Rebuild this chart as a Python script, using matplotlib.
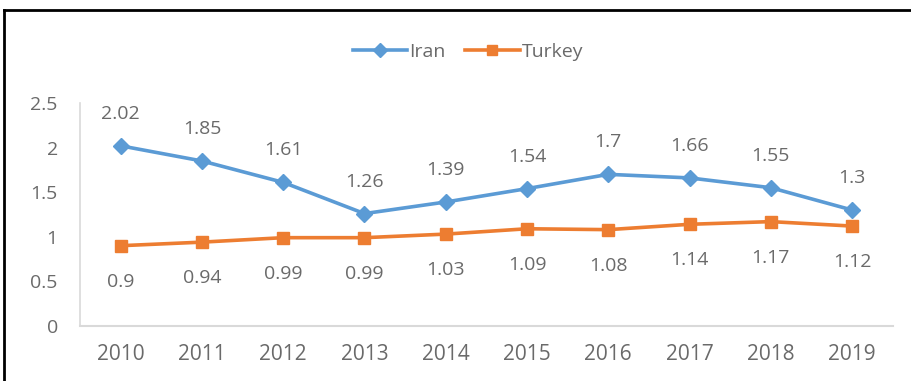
import numpy as np
import matplotlib.pyplot as plt
from matplotlib.lines import Line2D

# datos de la grafica
years = ['2010', '2011', '2012', '2013', '2014', '2015', '2016', '2017', '2018', '2019']
iran = [2.02, 1.85, 1.61, 1.26, 1.39, 1.54, 1.7, 1.66, 1.55, 1.3]
turkey = [0.9, 0.94, 0.99, 0.99, 1.03, 1.09, 1.08, 1.14, 1.17, 1.12]

gris = '#6a6a6a'
plt.rcParams['font.family'] = ['Open Sans', 'DejaVu Sans']

fig = plt.figure(figsize=(9.11, 3.81), dpi=100)
ax = fig.add_axes([0.0878, 0.1444, 0.8922, 0.5853])

x = np.arange(len(years))
ax.plot(x, iran, color='#5B9BD5', lw=2.6, marker='D', ms=8, label='Iran')
ax.plot(x, turkey, color='#ED7D31', lw=2.6, marker='s', ms=9, label='Turkey')

# etiquetas de valores
for i in range(len(years)):
    ax.annotate(f'{iran[i]:g}', (x[i], iran[i]), xytext=(0, 23), textcoords='offset points',
                ha='center', va='center', fontsize=14, color=gris)
    ax.annotate(f'{turkey[i]:g}', (x[i], turkey[i]), xytext=(0, -26), textcoords='offset points',
                ha='center', va='center', fontsize=14, color=gris)

ax.set_xlim(-0.5, 9.5)
ax.set_ylim(0, 2.5)
ax.set_yticks([0, 0.5, 1, 1.5, 2, 2.5])
ax.set_yticklabels(['0', '0.5', '1', '1.5', '2', '2.5'])
ax.set_xticks(x)
ax.set_xticklabels(years)
ax.tick_params(axis='both', length=0, labelsize=14, labelcolor=gris)
ax.tick_params(axis='x', labelsize=15, pad=13)
ax.tick_params(axis='y', pad=16)
for s in ['top', 'right']:
    ax.spines[s].set_visible(False)
ax.spines['left'].set_color('#d9d9d9')
ax.spines['bottom'].set_color('#d9d9d9')
ax.spines['left'].set_linewidth(1.2)
ax.spines['bottom'].set_linewidth(1.5)

fig.legend(loc='center', bbox_to_anchor=(468 / 911, 1 - 52 / 381), ncol=2, frameon=False,
           fontsize=14, labelcolor=gris, handlelength=2.8, handletextpad=0.1, columnspacing=1.0,
           markerscale=0.85)

# marco
fig.add_artist(Line2D([4 / 911, 4 / 911], [0, 1 - 10 / 381], color='black', lw=2, transform=fig.transFigure))
fig.add_artist(Line2D([4 / 911, 1], [1 - 10 / 381, 1 - 10 / 381], color='black', lw=2, transform=fig.transFigure))

plt.savefig('out.png', dpi=100)
